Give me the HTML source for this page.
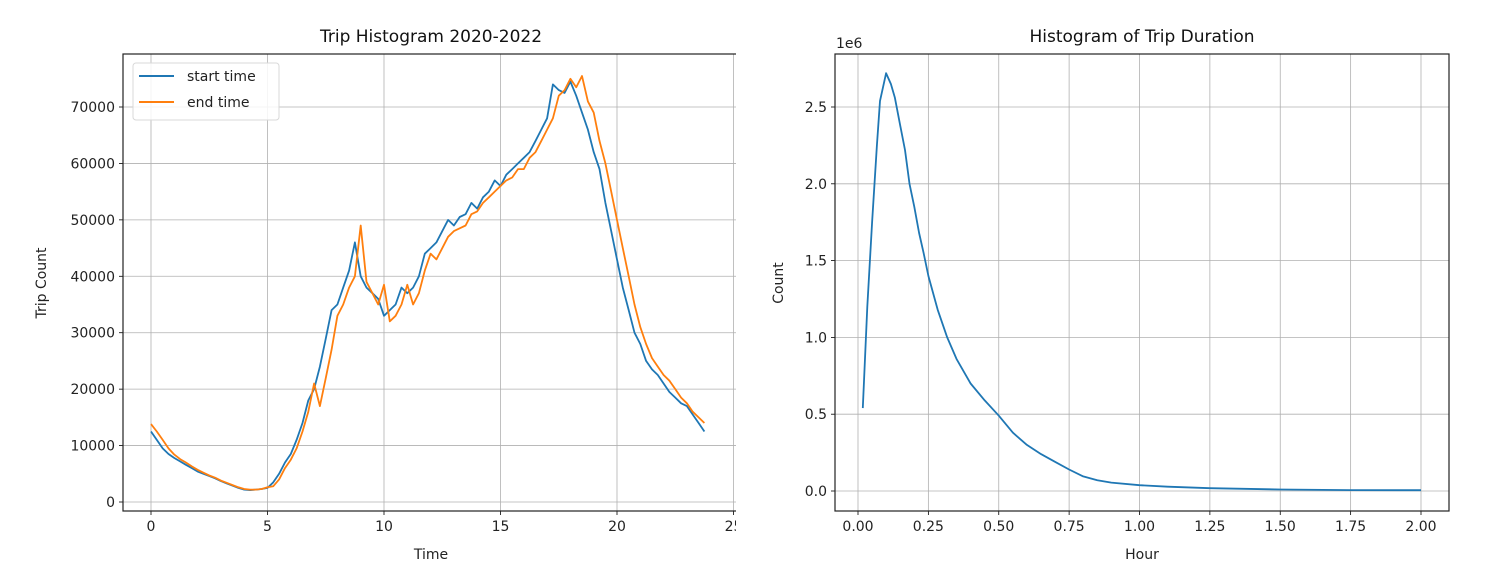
<!DOCTYPE html>
<html><head><meta charset="utf-8">
<style>
html,body{margin:0;padding:0;background:#fff;}
svg{display:block;font-family:"DejaVu Sans","Liberation Sans",sans-serif;}
</style></head>
<body>
<svg id="fig" width="1489" height="573" viewBox="0 0 1489 573" xmlns="http://www.w3.org/2000/svg">
<rect width="1489" height="573" fill="#fff"/>
<g id="left"></g>
<g id="right"></g>
</svg>
<script>
// Left chart data
const hours = [];
for (let i = 0; i < 96; i++) hours.push(i * 0.25);
const startTime = [12500,11000,9500,8500,7800,7200,6600,6000,5400,5000,4600,4200,3700,3300,2900,2500,2200,2100,2200,2300,2500,3500,5000,7000,8500,11000,14000,18000,20000,24000,29000,34000,35000,38000,41000,46000,40000,38000,37000,36000,33000,34000,35000,38000,37000,38000,40000,44000,45000,46000,48000,50000,49000,50500,51000,53000,52000,54000,55000,57000,56000,58000,59000,60000,61000,62000,64000,66000,68000,74000,73000,72500,74500,72000,69000,66000,62000,59000,53000,48000,43000,38000,34000,30000,28000,25000,23500,22500,21000,19500,18500,17500,17000,15500,14000,12500];
const endTime = [13800,12500,11000,9500,8400,7600,7000,6300,5700,5200,4700,4300,3800,3400,3000,2600,2300,2200,2200,2300,2600,2800,4000,6000,7500,9500,12500,16000,21000,17000,22000,27000,33000,35000,38000,40000,49000,39000,37000,35000,38500,32000,33000,35000,38500,35000,37000,41000,44000,43000,45000,47000,48000,48500,49000,51000,51500,53000,54000,55000,56000,57000,57500,59000,59000,61000,62000,64000,66000,68000,72000,73000,75000,73500,75500,71000,69000,64000,60000,55000,50000,45000,40000,35000,31000,28000,25500,24000,22500,21500,20000,18500,17500,16000,15000,14000];
const leftXTicks = [0,5,10,15,20,25];
const leftYTicks = [0,10000,20000,30000,40000,50000,60000,70000];
// Right chart data
const durHours = [0.017,0.033,0.05,0.067,0.078,0.1,0.117,0.131,0.15,0.167,0.183,0.2,0.217,0.233,0.25,0.283,0.317,0.35,0.4,0.45,0.5,0.55,0.6,0.65,0.7,0.75,0.8,0.85,0.9,1.0,1.1,1.25,1.5,1.75,2.0];
const durCounts = [540000,1200000,1750000,2250000,2540000,2720000,2650000,2560000,2380000,2220000,2000000,1850000,1680000,1550000,1400000,1180000,1000000,860000,700000,590000,490000,380000,300000,240000,190000,140000,95000,70000,55000,38000,28000,18000,10000,6000,5000];
const rightXTicks = [0,0.25,0.5,0.75,1.0,1.25,1.5,1.75,2.0];
const rightYTicks = [0,0.5,1.0,1.5,2.0,2.5];

const NS = 'http://www.w3.org/2000/svg';
function mk(parent, tag, attrs, text) {
  const e = document.createElementNS(NS, tag);
  for (const k in attrs) e.setAttribute(k, attrs[k]);
  if (text !== undefined) e.textContent = text;
  parent.appendChild(e);
  return e;
}

// ---- Left chart ----
const L = document.getElementById('left');
const lx = v => 151 + v * 23.3;
const ly = v => 502 - v * (395 / 70000);
const LB = {x0:123, x1:740, y0:54, y1:511};
const clip = mk(L, 'clipPath', {id:'lclip'});
mk(clip, 'rect', {x:LB.x0, y:LB.y0, width:LB.x1-LB.x0, height:LB.y1-LB.y0});
leftXTicks.forEach(t => {
  const g = mk(L, 'line', {x1:lx(t), x2:lx(t), y1:LB.y0, y2:LB.y1, stroke:'#b0b0b0', 'stroke-width':0.8, 'clip-path':'url(#lclip)'});
  
  
  mk(L, 'line', {x1:lx(t), x2:lx(t), y1:LB.y1, y2:LB.y1+4, stroke:'#000', 'stroke-width':0.8});
  const tx = mk(L, 'text', {x:lx(t), y:LB.y1+20, 'text-anchor':'middle', 'font-size':14, fill:'#222'}, String(t));
  
  
});
leftYTicks.forEach(t => {
  const g = mk(L, 'line', {x1:LB.x0, x2:LB.x1, y1:ly(t), y2:ly(t), stroke:'#b0b0b0', 'stroke-width':0.8});
  
  
  mk(L, 'line', {x1:LB.x0-4, x2:LB.x0, y1:ly(t), y2:ly(t), stroke:'#000', 'stroke-width':0.8});
  const tx = mk(L, 'text', {x:LB.x0-8, y:ly(t)+5, 'text-anchor':'end', 'font-size':14, fill:'#222'}, String(t));
  
  
});
function poly(parent, xs, ys, fx, fy, color, name) {
  const pts = xs.map((x, i) => fx(x).toFixed(1) + ',' + fy(ys[i]).toFixed(1)).join(' ');
  const p = mk(parent, 'polyline', {points:pts, fill:'none', stroke:color, 'stroke-width':1.8, 'stroke-linejoin':'round'});
  
  
}
poly(L, hours, startTime, lx, ly, '#1f77b4', 'start-time-line');
poly(L, hours, endTime, lx, ly, '#ff7f0e', 'end-time-line');
mk(L, 'rect', {x:LB.x0, y:LB.y0, width:LB.x1-LB.x0, height:LB.y1-LB.y0, fill:'none', stroke:'#222', 'stroke-width':1.2});
// legend
const leg = mk(L, 'g', {});


mk(leg, 'rect', {x:133, y:63, width:146, height:57, rx:3, fill:'#fff', 'fill-opacity':0.85, stroke:'#d8d8d8'});
mk(leg, 'line', {x1:139, x2:174, y1:76, y2:76, stroke:'#1f77b4', 'stroke-width':2});
mk(leg, 'text', {x:187, y:81, 'font-size':14, fill:'#222'}, 'start time');
mk(leg, 'line', {x1:139, x2:174, y1:102, y2:102, stroke:'#ff7f0e', 'stroke-width':2});
mk(leg, 'text', {x:187, y:107, 'font-size':14, fill:'#222'}, 'end time');
// titles
mk(L, 'text', {x:431, y:42, 'text-anchor':'middle', 'font-size':17, fill:'#111'}, 'Trip Histogram 2020-2022');
mk(L, 'text', {x:431, y:559, 'text-anchor':'middle', 'font-size':14, fill:'#222'}, 'Time');
mk(L, 'text', {x:0, y:0, transform:'translate(46,283) rotate(-90)', 'text-anchor':'middle', 'font-size':14, fill:'#222'}, 'Trip Count');
// white mask to mimic crop at x>=736
mk(L, 'rect', {x:736, y:0, width:40, height:573, fill:'#fff'});

// ---- Right chart ----
const R = document.getElementById('right');
const rx = v => 858 + v * 281.5;
const ry = v => 491 - v * 153.6;
const RB = {x0:835, x1:1449, y0:54, y1:511};
rightXTicks.forEach(t => {
  const g = mk(R, 'line', {x1:rx(t), x2:rx(t), y1:RB.y0, y2:RB.y1, stroke:'#b0b0b0', 'stroke-width':0.8});
  
  
  mk(R, 'line', {x1:rx(t), x2:rx(t), y1:RB.y1, y2:RB.y1+4, stroke:'#000', 'stroke-width':0.8});
  const tx = mk(R, 'text', {x:rx(t), y:RB.y1+20, 'text-anchor':'middle', 'font-size':14, fill:'#222'}, t.toFixed(2));
  
  
});
rightYTicks.forEach(t => {
  const g = mk(R, 'line', {x1:RB.x0, x2:RB.x1, y1:ry(t), y2:ry(t), stroke:'#b0b0b0', 'stroke-width':0.8});
  
  
  mk(R, 'line', {x1:RB.x0-4, x2:RB.x0, y1:ry(t), y2:ry(t), stroke:'#000', 'stroke-width':0.8});
  const tx = mk(R, 'text', {x:RB.x0-8, y:ry(t)+5, 'text-anchor':'end', 'font-size':14, fill:'#222'}, t.toFixed(1));
  
  
});
poly(R, durHours, durCounts, rx, v => ry(v / 1e6), '#1f77b4', 'duration-line');
mk(R, 'rect', {x:RB.x0, y:RB.y0, width:RB.x1-RB.x0, height:RB.y1-RB.y0, fill:'none', stroke:'#222', 'stroke-width':1.2});
mk(R, 'text', {x:1142, y:42, 'text-anchor':'middle', 'font-size':17, fill:'#111'}, 'Histogram of Trip Duration');
mk(R, 'text', {x:836, y:48, 'font-size':14, fill:'#222'}, '1e6');
mk(R, 'text', {x:1142, y:559, 'text-anchor':'middle', 'font-size':14, fill:'#222'}, 'Hour');
mk(R, 'text', {x:0, y:0, transform:'translate(783,283) rotate(-90)', 'text-anchor':'middle', 'font-size':14, fill:'#222'}, 'Count');
</script>
</body></html>
